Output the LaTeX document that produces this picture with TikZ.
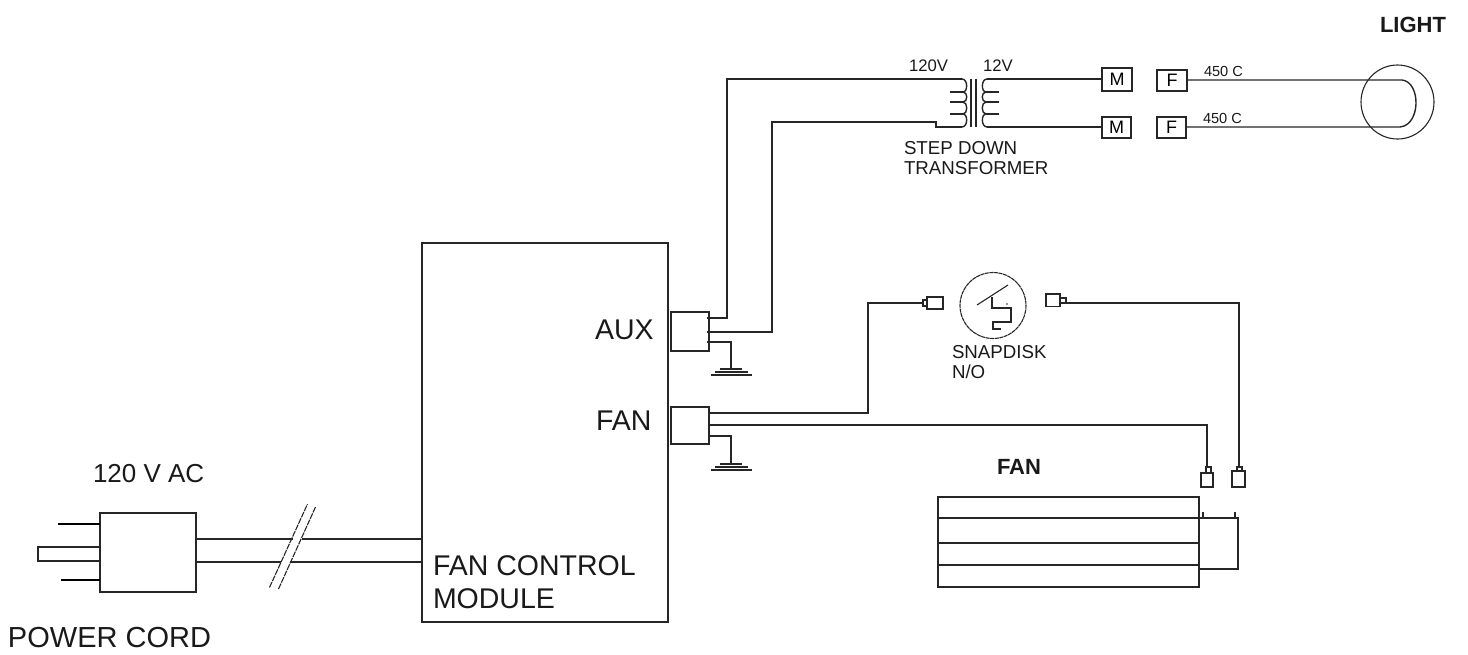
\documentclass[tikz,border=0pt]{standalone}
\usepackage{fontspec}
\setmainfont{Liberation Sans}
\newfontfamily\norm{Liberation Sans}
\tikzset{
  wire/.style={line width=1.4pt,draw=black!85,line join=miter},
  box/.style={wire,fill=none},
  thin wire/.style={line width=1.1pt,draw=black!85},
  lab/.style={anchor=base west,inner sep=0pt,outer sep=0pt,text=black!90},
  big/.style={lab,font=\norm\fontsize{28.5}{29}\selectfont},
  mid/.style={lab,font=\norm\fontsize{18.7}{19}\selectfont},
  sm/.style={lab,font=\norm\fontsize{16.7}{17}\selectfont},
  tiny/.style={lab,font=\norm\fontsize{14.6}{15}\selectfont},
  heavy/.style={lab,font=\norm\bfseries\fontsize{22}{22}\selectfont},
  letter/.style={inner sep=0pt,outer sep=0pt,text=black,font=\norm\fontsize{18}{18}\selectfont},
}
\begin{document}
\begin{tikzpicture}[x=1pt,y=-1pt]
\useasboundingbox (0,0) rectangle (1468,654);
% main module
\draw[box] (422,243) rectangle (668,622);
\coordinate (modL1) at (422,539); \coordinate (modL2) at (422,562);
\node[big] (auxl) at (595,339) {AUX};
\node[big] (fanl) at (596,430) {FAN};
\node[big] (fcm) at (433,575) {FAN CONTROL};
\node[big] (mod) at (433,608) {MODULE};
% plug
\draw[box] (100,513) rectangle (196,592);
\draw[box] (38,547) rectangle (100,561);
\draw[line width=2.2pt,draw=black] (58,524) -- (100,524);
\draw[line width=2.2pt,draw=black] (61,580) -- (100,580);
\draw[wire] (196,539) -- (293,539) (302,539) -- (modL1);
\draw[wire] (196,562) -- (281,562) (290,562) -- (modL2);
\draw[thin wire,dash pattern=on 6pt off 1pt] (269.5,587.5) -- (307.5,504);
\draw[thin wire,dash pattern=on 6pt off 1pt] (278.5,589) -- (315.5,507);
\node[lab,font=\norm\fontsize{26}{26}\selectfont] (vac) at (93,482) {120 V AC};
\node[lab,font=\norm\fontsize{29}{29}\selectfont] (pc) at (8,647) {POWER CORD};
% aux connector
\draw[box] (671,312) rectangle (709,351);
\draw[wire] (707,318) -- (727,318) -- (727,79) -- (962,79);
\draw[wire] (707,332) -- (772,332) -- (772,122) -- (936,122) -- (936,127) -- (962,127);
\draw[wire] (707,342) -- (731,342) -- (731,369);
\draw[wire] (720,369) -- (742,369) (715,372) -- (748,372) (711,375) -- (752,375);
% fan connector
\draw[box] (671,407) rectangle (709,444);
\draw[wire] (709,413) -- (868,413) -- (868,303) -- (923,303);
\draw[wire] (709,425) -- (1207,425) -- (1207,467);
\draw[wire] (709,436) -- (731,436) -- (731,463);
\draw[wire] (720,464) -- (742,464) (715,467) -- (748,467) (711,470) -- (752,470);
% snapdisk
\draw[thin wire,dash pattern=on 4pt off .6pt] (993,305.5) circle (33);
\draw[thin wire] (977,305) -- (1008,285);
\draw[thin wire] (992,297) -- (992,308) -- (1011,308) -- (1011,322) -- (993,322) -- (993,329) -- (1001,329);
\fill[black!85] (1007,304) circle (.9);
\draw[box,line width=1.2pt] (923,300) rectangle (927,306);
\draw[box] (927,297) rectangle (943,309);
\draw[box,line width=1.2pt] (1060,298) rectangle (1066,303);
\draw[box] (1046,294) rectangle (1060,306.5);
\draw[wire] (1066,303) -- (1239,303) -- (1239,467);
\node[mid] (sd) at (952,358) {SNAPDISK};
\node[mid] (no) at (952,378) {N/O};
% fan
\draw[box] (1206,467) rectangle (1211,473);
\draw[box] (1201,473) rectangle (1213,487);
\draw[box] (1237,467) rectangle (1242,471);
\draw[box] (1232,471) rectangle (1245,487);
\draw[box] (938,497) rectangle (1199,587);
\draw[wire] (938,518) -- (1199,518) (938,543) -- (1199,543) (938,565) -- (1199,565);
\draw[wire] (1199,518) -- (1238,518) -- (1238,569) -- (1199,569);
\draw[line width=2pt,draw=black!85] (1203,512) -- (1203,518) (1235,512) -- (1235,518);
\node[heavy] (fant) at (997,474) {FAN};
% transformer
\draw[wire] (962,79) .. controls (968,79) and (968,92) .. (963,92) .. controls (968,92) and (968,102) .. (963,102) .. controls (968,102) and (968,114) .. (963,114) .. controls (968,114) and (968,127) .. (962,127);
\draw[wire] (950,92) -- (963,92) (950,102) -- (963,102) (950,114) -- (963,114);
\draw[wire] (971,79) -- (971,127) (976,79) -- (976,127);
\draw[wire] (987,79) .. controls (981,79) and (981,92) .. (986,92) .. controls (981,92) and (981,102) .. (986,102) .. controls (981,102) and (981,114) .. (986,114) .. controls (981,114) and (981,127) .. (987,127);
\draw[wire] (986,92) -- (999,92) (986,102) -- (999,102) (986,114) -- (999,114);
\node[sm] (v120) at (909,71) {120V};
\node[sm] (v12) at (983,71) {12V};
\node[mid] (sdn) at (904,154) {STEP DOWN};
\node[mid] (tr) at (904,174) {TRANSFORMER};
% M, F
\draw[box] (1102,68) rectangle (1132,91);
\draw[box] (1102,117) rectangle (1131,138);
\draw[box] (1157,70) rectangle (1187,91);
\draw[box] (1157,117) rectangle (1186,138);
\node[letter] (m1) at (1117,79.5) {M};
\node[letter] (m2) at (1116.5,127.5) {M};
\node[letter] (f1) at (1172,80.5) {F};
\node[letter] (f2) at (1171.5,127.5) {F};
\draw[wire] (987,79) -- (1102,79);
\draw[wire] (987,127) -- (1102,127);
\draw[wire] (1187,80) -- (1402,80) .. controls (1421,82) and (1421,125) .. (1400,127) -- (1186,127);
\node[tiny] (t1) at (1204,76) {450 C};
\node[tiny] (t2) at (1203,123) {450 C};
\draw[thin wire] (1397.5,102) ellipse (36.5 and 37);
\node[heavy] (lt) at (1380,32) {LIGHT};
\end{tikzpicture}
\end{document}
